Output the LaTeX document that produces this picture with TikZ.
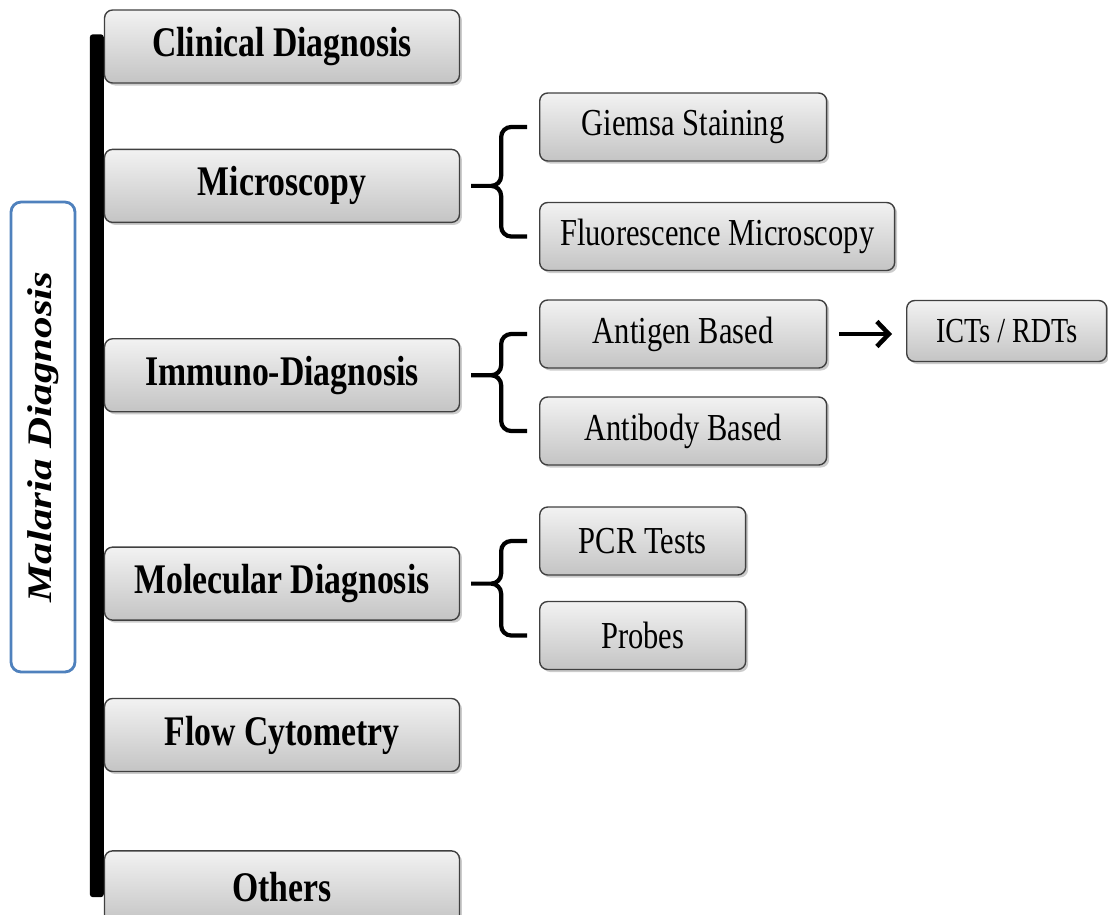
\documentclass[tikz,border=0pt]{standalone}
\usepackage{graphicx}
\usepackage{fontspec}
\setmainfont{Liberation Serif}[FakeStretch=0.8]
\newfontfamily\plainserif{Liberation Serif}
\usepackage{tikz}
\usetikzlibrary{positioning,shadows,arrows.meta,backgrounds}

\definecolor{boxtop}{RGB}{242,242,242}
\definecolor{boxbottom}{RGB}{196,196,196}
\definecolor{boxline}{RGB}{64,64,64}
\definecolor{labelblue}{RGB}{79,129,189}

\begin{document}
\begin{tikzpicture}[
    x=0.02cm, y=-0.02cm,
    catbox/.style={rectangle, draw=boxline, line width=0.8pt, rounded corners=0.16cm,
        top color=boxtop, bottom color=boxbottom, minimum width=7.1cm, minimum height=1.46cm,
        font=\fontsize{24}{26}\selectfont\bfseries,
        drop shadow={shadow xshift=0.05cm, shadow yshift=-0.05cm, opacity=0.4}},
    methodbox/.style={catbox, minimum height=1.36cm, font=\fontsize{21.7}{24}\selectfont, anchor=west},
    leftlabel/.style={rectangle, draw=labelblue, line width=1.6pt, rounded corners=0.2cm, fill=white,
        rotate=90, minimum width=9.4cm, minimum height=1.28cm, font=\fontsize{24.5}{27}\selectfont},
    grpbrace/.style={line width=2.4pt, rounded corners=0.2cm},
    arrow/.style={-{Straight Barb[length=0.24cm, width=0.5cm, line width=2.6pt]}, line width=2.6pt,
        shorten <=0.24cm, shorten >=0.28cm}
]
\useasboundingbox (0,0) rectangle (1108,914);

% Left label
\node[leftlabel] (malaria) at (43,437) {\scalebox{1}[0.8]{\plainserif\bfseries\itshape Malaria Diagnosis}};

% Main categories
\node[catbox] (clinical) at (282,46.5) {Clinical Diagnosis};
\node[catbox, below=1.3cm of clinical] (micro) {Microscopy};
\node[catbox, below=2.3cm of micro] (immuno) {Immuno-Diagnosis};
\node[catbox, below=2.68cm of immuno] (molec) {Molecular Diagnosis};
\node[catbox, below=1.54cm of molec] (flow) {Flow Cytometry};
\node[catbox, below=1.56cm of flow] (others) {Others};

% Spine
\begin{scope}[on background layer]
\fill[rounded corners=0.06cm] ([xshift=-0.28cm, yshift=-0.5cm]clinical.north west) rectangle ([yshift=-0.94cm]others.north west);
\end{scope}

% Methods
\node[methodbox, minimum width=5.74cm] (giemsa) at (539,127) {Giemsa Staining};
\node[methodbox, minimum width=7.1cm] (fluor) at (539,236.5) {Fluorescence Microscopy};
\node[methodbox, minimum width=5.74cm] (antigen) at (539,334) {Antigen Based};
\node[methodbox, minimum width=5.74cm] (antibody) at (539,431) {Antibody Based};
\node[methodbox, minimum width=4.12cm] (pcr) at (539,541) {PCR Tests};
\node[methodbox, minimum width=4.12cm] (probes) at (539,635.5) {Probes};
\node[methodbox, minimum width=4cm, minimum height=1.22cm, font=\fontsize{20}{22}\selectfont] (icts) at (906,331) {ICTs / RDTs};

% Braces
\foreach \hi/\lo/\cat in {giemsa/fluor/micro, antigen/antibody/immuno, pcr/probes/molec} {
    \draw[grpbrace] ([xshift=-0.24cm]\hi.west) -| ([xshift=0.82cm]\cat.east) -- ([xshift=0.22cm]\cat.east)
        ([xshift=0.22cm]\cat.east) -- ([xshift=0.82cm]\cat.east) |- ([xshift=-0.24cm]\lo.west);
}

% Arrow
\draw[arrow] (antigen.east) -- (antigen.east -| icts.west);

\end{tikzpicture}
\end{document}
